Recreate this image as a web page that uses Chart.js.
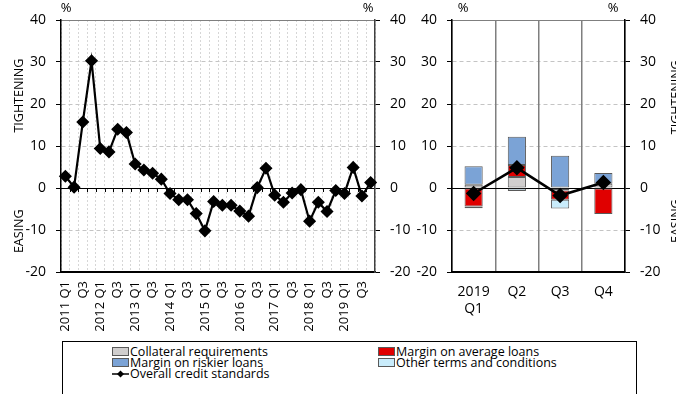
<!DOCTYPE html>
<html>
<head>
<meta charset="utf-8">
<script src="https://cdn.jsdelivr.net/npm/chart.js@4.4.1/dist/chart.umd.min.js"></script>
<style>
  body { margin: 0; background: #fff; font-family: 'Open Sans', sans-serif; }
  #page { position: relative; width: 676px; height: 394px; overflow: hidden; }
  #trendBox { position: absolute; left: 0; top: 0; width: 410px; height: 340px; }
  #recentBox { position: absolute; left: 405px; top: 0; width: 271px; height: 340px; }
  #legend { position: absolute; left: 62px; top: 341px; width: 575px; height: 70px; border: 1px solid #000; box-sizing: border-box; }
  .item { position: absolute; display: flex; align-items: center; height: 12px; font-size: 12.5px; color: #000; white-space: nowrap; }
  .swatch { display: inline-block; width: 15px; height: 7px; border: 1px solid #595959; margin-right: 1px; }
</style>
</head>
<body>
<div id="page">
  <div id="trendBox"><canvas id="trend"></canvas></div>
  <div id="recentBox"><canvas id="recent"></canvas></div>
  <div id="legend"></div>
</div>
<script>
// quarterly history 2011 Q1 - 2019 Q4
const quarters = [
  "2011 Q1", "Q2", "Q3", "Q4", "2012 Q1", "Q2", "Q3", "Q4",
  "2013 Q1", "Q2", "Q3", "Q4", "2014 Q1", "Q2", "Q3", "Q4",
  "2015 Q1", "Q2", "Q3", "Q4", "2016 Q1", "Q2", "Q3", "Q4",
  "2017 Q1", "Q2", "Q3", "Q4", "2018 Q1", "Q2", "Q3", "Q4",
  "2019 Q1", "Q2", "Q3", "Q4"
];
const overall = [
  2.8, 0.2, 15.7, 30.3, 9.4, 8.6, 14.0, 13.2,
  5.7, 4.3, 3.5, 2.1, -1.3, -2.8, -2.8, -6.1,
  -10.2, -3.2, -4.1, -4.1, -5.5, -6.7, 0.1, 4.7,
  -1.7, -3.4, -1.2, -0.4, -7.9, -3.4, -5.6, -0.6,
  -1.3, 4.9, -1.9, 1.3
];

// 2019 breakdown
const recentQuarters = [["2019", "Q1"], "Q2", "Q3", "Q4"];
const collateral = [0.8, 2.6, -0.6, 1.0];
const marginAverage = [-4.4, 2.9, -2.2, -6.2];
const marginRiskier = [4.4, 6.7, 7.7, 2.6];
const otherTerms = [-0.4, -0.7, -2.1, 0];
const overallRecent = [-1.3, 4.8, -1.8, 1.3];

const yTicks = [-20, -10, 0, 10, 20, 30, 40];
const seriesNames = ["Collateral requirements", "Margin on average loans", "Margin on riskier loans", "Other terms and conditions", "Overall credit standards"];
const seriesColors = ["#d0cece", "#e00000", "#7ba3d6", "#c9ecfb"];

Chart.defaults.font.family = "'Open Sans', sans-serif";
Chart.defaults.color = "#000";

const clear = "rgba(0,0,0,0)";

// % signs and the TIGHTENING / EASING side titles
const sideText = {
  id: "sideText",
  afterDraw(chart, args, opts) {
    const { ctx, chartArea, scales } = chart;
    ctx.save();
    ctx.fillStyle = "#000";
    ctx.textAlign = "center";
    ctx.textBaseline = "middle";
    ctx.font = "13px 'Open Sans'";
    ctx.fillText("%", chartArea.left + opts.pctLeft, chartArea.top - 12);
    ctx.fillText("%", chartArea.right - opts.pctRight, chartArea.top - 12);
    ctx.font = "12.5px 'Open Sans'";
    opts.titles.forEach(t => {
      const x = t.side === "left" ? chartArea.left - t.offset : chartArea.right + t.offset;
      const y = scales.y.getPixelForValue(t.value);
      ctx.save();
      ctx.translate(x, y);
      ctx.rotate(-Math.PI / 2);
      ctx.fillText(t.text, 0, 0);
      ctx.restore();
    });
    ctx.restore();
  }
};

// little tick marks hanging from the zero line between quarters
const zeroTicks = {
  id: "zeroTicks",
  beforeDatasetsDraw(chart) {
    const { ctx, scales } = chart;
    const y0 = scales.y.getPixelForValue(0);
    ctx.save();
    ctx.strokeStyle = "#000";
    ctx.lineWidth = 1;
    ctx.beginPath();
    for (let i = 1; i < quarters.length; i++) {
      const x = Math.round((scales.x.getPixelForTick(i - 1) + scales.x.getPixelForTick(i)) / 2) + 0.5;
      ctx.moveTo(x, y0);
      ctx.lineTo(x, y0 + 4);
    }
    ctx.stroke();
    ctx.restore();
  }
};

// dashed grey grid on the left axis (drawn first), solid frame / zero line on the right axis
function yAxes(leftWidth, rightWidth, rightBorder) {
  return {
    y: {
      position: "left", min: -20, max: 40, stacked: true,
      afterBuildTicks: s => { s.ticks = yTicks.map(v => ({ value: v })); },
      ticks: { padding: 10, font: { size: 14 } },
      grid: { color: "#c4c4c4", tickColor: "#000", tickLength: 5, z: -2 },
      border: { color: "#000", width: 1.5, dash: [4, 3] },
      afterFit: s => { s.width = leftWidth; }
    },
    y2: {
      position: "right", min: -20, max: 40,
      afterBuildTicks: s => { s.ticks = yTicks.map(v => ({ value: v })); },
      ticks: { padding: 10, font: { size: 14 } },
      grid: {
        color: c => {
          const v = c.tick ? c.tick.value : null;
          if (v === 0 || v === -20) return "#000";
          if (v === 40) return "#7f7f7f";
          return clear;
        },
        tickColor: "#000",
        tickLength: 5
      },
      border: { color: rightBorder, width: 1.5 },
      afterFit: s => { s.width = rightWidth; }
    }
  };
}

new Chart(document.getElementById("trend"), {
  type: "line",
  data: {
    labels: quarters,
    datasets: [{
      label: seriesNames[4],
      data: overall,
      borderColor: "#000",
      backgroundColor: "#000",
      borderWidth: 2.2,
      tension: 0,
      pointStyle: "rectRot",
      pointRadius: 5,
      pointBackgroundColor: "#000",
      pointBorderColor: "#000"
    }]
  },
  options: {
    responsive: true,
    maintainAspectRatio: false,
    animation: false,
    layout: { padding: { top: 20 } },
    plugins: {
      legend: { display: false },
      tooltip: { enabled: false },
      sideText: {
        pctLeft: 5, pctRight: 7,
        titles: [
          { text: "TIGHTENING", side: "left", offset: 42, value: 22 },
          { text: "EASING", side: "left", offset: 42, value: -10.3 }
        ]
      }
    },
    scales: {
      x: {
        offset: true,
        grid: { offset: true, color: "#d6d6d6", drawTicks: false, z: -2 },
        border: { color: "#000", width: 1.5, dash: [2, 2] },
        ticks: {
          autoSkip: false, maxRotation: 90, minRotation: 90, padding: 9,
          font: { size: 13 },
          callback: (v, i) => i % 2 === 0 ? quarters[i] : ""
        },
        afterFit: s => { s.height = 68; }
      },
      ...yAxes(61, 35, "#404040")
    }
  },
  plugins: [sideText, zeroTicks]
});

const barStyle = { borderColor: "#595959", borderWidth: 1, borderSkipped: false, stack: "parts", order: 1, barPercentage: 0.42, categoryPercentage: 1 };

new Chart(document.getElementById("recent"), {
  type: "bar",
  data: {
    labels: recentQuarters,
    datasets: [
      { type: "line", label: seriesNames[4], data: overallRecent, stack: "overall", order: 0,
        borderColor: "#000", backgroundColor: "#000", borderWidth: 2.5, tension: 0,
        pointStyle: "rectRot", pointRadius: 6, pointBackgroundColor: "#000", pointBorderColor: "#000" },
      { label: seriesNames[0], data: collateral, backgroundColor: seriesColors[0], ...barStyle },
      { label: seriesNames[1], data: marginAverage, backgroundColor: seriesColors[1], ...barStyle },
      { label: seriesNames[2], data: marginRiskier, backgroundColor: seriesColors[2], ...barStyle },
      { label: seriesNames[3], data: otherTerms, backgroundColor: seriesColors[3], ...barStyle }
    ]
  },
  options: {
    responsive: true,
    maintainAspectRatio: false,
    animation: false,
    layout: { padding: { top: 20 } },
    plugins: {
      legend: { display: false },
      tooltip: { enabled: false },
      sideText: {
        pctLeft: 11, pctRight: 12,
        titles: [
          { text: "TIGHTENING", side: "right", offset: 51, value: 21.6 },
          { text: "EASING", side: "right", offset: 51, value: -7.9 }
        ]
      }
    },
    scales: {
      x: {
        stacked: true,
        grid: { offset: true, color: "#7f7f7f", lineWidth: 1.5, drawTicks: false },
        border: { color: "#000", width: 1.5 },
        ticks: { padding: 12, font: { size: 14 } },
        afterFit: s => { s.height = 68; }
      },
      ...yAxes(47, 51, "#000")
    }
  },
  plugins: [sideText]
});

// legend box below both panels
const legend = document.getElementById("legend");
const legendSlots = [[0, 0], [1, 0], [0, 1], [1, 1], [0, 2]];
seriesNames.forEach((name, i) => {
  const [col, row] = legendSlots[i];
  const item = document.createElement("div");
  item.className = "item";
  item.style.left = (col === 0 ? 49 : 315) + "px";
  item.style.top = (3 + row * 11.3) + "px";
  if (i < seriesColors.length) {
    const sw = document.createElement("span");
    sw.className = "swatch";
    sw.style.background = seriesColors[i];
    item.appendChild(sw);
  } else {
    item.insertAdjacentHTML("beforeend",
      '<svg width="17" height="10" style="margin-right:1px"><line x1="0" y1="5" x2="17" y2="5" stroke="#000" stroke-width="1.5"/><path d="M8.5 1.5 L12 5 L8.5 8.5 L5 5 Z" fill="#000"/></svg>');
  }
  item.appendChild(document.createTextNode(name));
  legend.appendChild(item);
});
</script>
</body>
</html>
